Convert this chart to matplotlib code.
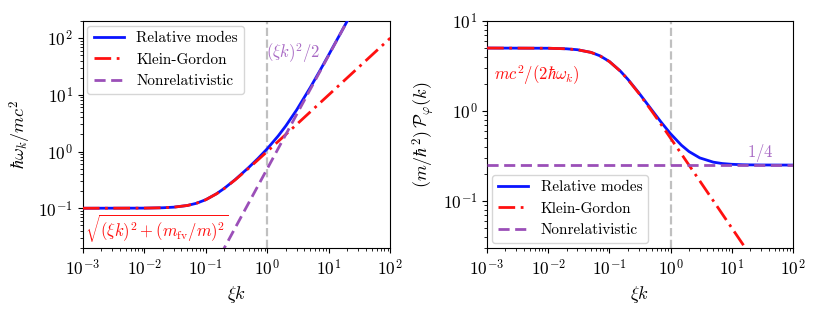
import matplotlib
matplotlib.use("Agg")
import matplotlib.pyplot as plt

plt.rcParams.update({
    "font.family": "serif",
    "font.serif": ["cmr10", "DejaVu Serif"],
    "mathtext.fontset": "cm",
    "axes.formatter.use_mathtext": True,
    "font.size": 12,
    "axes.unicode_minus": False,
})

# values, on a shared xi*k grid
xk = [1e-3, 1e-2, 2e-2, 3e-2, 5e-2, 0.07, 0.1, 0.15, 0.2, 0.3, 0.5, 0.7,
      1, 1.5, 2, 3, 5, 7, 10, 15, 20, 30, 50, 100]

# left panel: hbar*omega_k / mc^2
omega_rel = [0.1, 0.1005, 0.102, 0.1044, 0.1118, 0.1221, 0.1415, 0.1806,
             0.2245, 0.3194, 0.525, 0.7483, 1.1225, 1.878, 2.83, 5.409,
             13.46, 25.48, 50.99, 113.5, 201.0, 451.0, 1251.0, 5001.0]
omega_kg = [0.1, 0.1005, 0.102, 0.1044, 0.1118, 0.1221, 0.1414, 0.1803,
            0.2236, 0.3162, 0.5099, 0.7071, 1.005, 1.503, 2.002, 3.002,
            5.001, 7.0, 10.0, 15.0, 20.0, 30.0, 50.0, 100.0]
omega_nr = [5e-7, 5e-5, 2e-4, 4.5e-4, 1.25e-3, 2.45e-3, 5e-3, 0.01125,
            0.02, 0.045, 0.125, 0.245, 0.5, 1.125, 2.0, 4.5, 12.5, 24.5,
            50.0, 112.5, 200.0, 450.0, 1250.0, 5000.0]

# right panel: (m/hbar^2) P_phi(k)
p_rel = [5.0, 4.975, 4.903, 4.79, 4.475, 4.1, 3.542, 2.784, 2.249, 1.601,
         1.012, 0.75, 0.5568, 0.4161, 0.3534, 0.3004, 0.2693, 0.26, 0.255,
         0.2522, 0.2512, 0.2506, 0.2502, 0.25]
p_kg = [5.0, 4.975, 4.903, 4.789, 4.472, 4.095, 3.536, 2.774, 2.236, 1.581,
        0.981, 0.7071, 0.4975, 0.3327, 0.2497, 0.1666, 0.1, 0.0714, 0.05,
        0.0333, 0.025, 0.0167, 0.01, 0.005]
p_nr = [0.25] * len(xk)

BLUE = "#0a14ff"
RED = "#ff1010"
PURPLE = "#9b4fb8"
PURPLE_TXT = "#a869c4"

fig = plt.figure(figsize=(8.2, 3.13), dpi=100)
ax1 = fig.add_axes([0.101, 0.208, 0.375, 0.725])
ax2 = fig.add_axes([0.594, 0.208, 0.373, 0.725])

for ax, rel, kg, nr in ((ax1, omega_rel, omega_kg, omega_nr),
                        (ax2, p_rel, p_kg, p_nr)):
    ax.axvline(1.0, color="#c0c0c0", ls="--", lw=1.6, zorder=1)
    ax.plot(xk, rel, color=BLUE, lw=2.0, label="Relative modes", zorder=3)
    ax.plot(xk, kg, color=RED, lw=2.0, ls=(0, (6, 2, 1, 2)),
            label="Klein-Gordon", zorder=4)
    ax.plot(xk, nr, color=PURPLE, lw=2.0, ls=(0, (4, 2)),
            label="Nonrelativistic", zorder=4)
    ax.set_xscale("log")
    ax.set_yscale("log")
    ax.set_xlim(1e-3, 1e2)
    ax.set_xlabel(r"$\xi k$", fontsize=13)
    ax.tick_params(which="both", direction="out", labelsize=12.5)

ax1.set_ylim(0.02, 200)
ax1.set_ylabel(r"$\hbar\omega_k/mc^2$", fontsize=13)
ax1.legend(loc="upper left", fontsize=11, handlelength=2.0,
           borderaxespad=0.3)
ax1.text(1.1e-3, 0.045, r"$\sqrt{(\xi k)^2+(m_{\rm fv}/m)^2}$",
         color=RED, fontsize=12, va="center")
ax1.text(0.95, 55, r"$(\xi k)^2/2$", color=PURPLE_TXT, fontsize=12,
         va="center")

ax2.set_ylim(0.03, 10)
ax2.set_ylabel(r"$(m/\hbar^2)\,\mathcal{P}_\varphi(k)$", fontsize=13)
ax2.legend(loc="lower left", fontsize=11, handlelength=2.0,
           borderaxespad=0.3)
ax2.text(1.3e-3, 2.5, r"$mc^2/(2\hbar\omega_k)$", color=RED, fontsize=12,
         va="center")
ax2.text(18, 0.34, r"$1/4$", color=PURPLE_TXT, fontsize=12, va="center")

fig.savefig("out.png", dpi=100)
